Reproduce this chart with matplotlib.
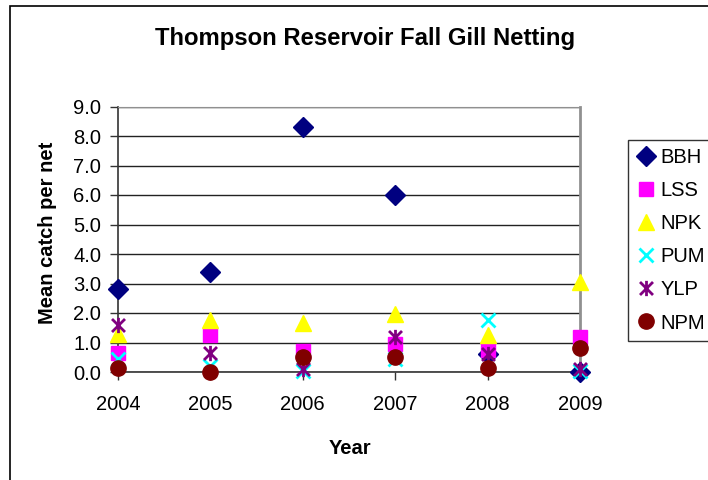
import matplotlib
matplotlib.use("Agg")
import matplotlib.pyplot as plt
from matplotlib.path import Path
from matplotlib.patches import Rectangle

plt.rcParams['font.family'] = ['Liberation Sans', 'DejaVu Sans']

# data
years = [2004, 2005, 2006, 2007, 2008, 2009]
bbh = [2.8, 3.4, 8.3, 6.0, 0.6, 0.0]
lss = [0.65, 1.25, 0.7, 0.95, 0.75, 1.2]
npk = [1.3, 1.75, 1.65, 1.95, 1.25, 3.05]
pum = [0.45, 0.2, 0.05, 0.45, 1.75, 0.05]
ylp = [1.6, 0.65, 0.1, 1.2, 0.6, 0.1]
npm = [0.15, 0.0, 0.5, 0.5, 0.15, 0.8]
yticks = [0, 1, 2, 3, 4, 5, 6, 7, 8, 9]

# Excel style asterisk: vertical bar plus an X
ast = Path([(0, -1), (0, 1), (-0.85, -0.85), (0.85, 0.85), (-0.85, 0.85), (0.85, -0.85)],
           [Path.MOVETO, Path.LINETO, Path.MOVETO, Path.LINETO, Path.MOVETO, Path.LINETO])

series = [
    ("BBH", bbh, "D", "#000080", 10, 1),
    ("LSS", lss, "s", "#FF00FF", 10, 1),
    ("NPK", npk, "^", "#FFFF00", 11, 1),
    ("PUM", pum, "x", "#00FFFF", 10, 2),
    ("YLP", ylp, ast, "#800080", 11, 2),
    ("NPM", npm, "o", "#800000", 11, 1),
]

fig = plt.figure(figsize=(7.08, 4.8), dpi=100)
ax = fig.add_axes([118/708, 1-372/480, 462/708, 265.5/480])

for name, vals, mk, col, ms, mew in series:
    ax.plot(years, vals, linestyle="none", marker=mk, color=col, markersize=ms,
            markeredgewidth=mew, markeredgecolor=col, label=name, clip_on=False, zorder=3)

ax.set_xlim(2004, 2009)
ax.set_ylim(0, 9)
ax.set_xticks(years)
ax.set_xticklabels([str(y) for y in years])
ax.set_yticks(yticks)
ax.set_yticklabels(["%.1f" % v for v in yticks])
ax.yaxis.grid(True, color="#222222", linewidth=1)
ax.set_axisbelow(True)
ax.tick_params(labelsize=14.5, direction="out", length=6, width=1, colors="#333333",
               labelcolor="black")
ax.tick_params(axis="x", pad=10.5)
ax.tick_params(axis="y", pad=6)
for s in ["top", "right"]:
    ax.spines[s].set_color("#909090")
ax.spines["right"].set_linewidth(2)
for s in ["left", "bottom"]:
    ax.spines[s].set_color("#333333")
    ax.spines[s].set_linewidth(1.2)

fig.text(365/708, 1-38/480, "Thompson Reservoir Fall Gill Netting", ha="center", va="center",
         fontsize=17.2, fontweight="bold")
fig.text(350/708, 1-449/480, "Year", ha="center", va="center", fontsize=14.5, fontweight="bold")
fig.text(48/708, 1-233/480, "Mean catch per net", ha="center", va="center", rotation=90,
         fontsize=14.5, fontweight="bold")

leg = fig.legend(loc="upper left", bbox_to_anchor=(628/708, 1-140/480), fontsize=14.5,
                 frameon=True, fancybox=False, edgecolor="black", handlelength=1.0,
                 handletextpad=0.2, borderpad=0.4, labelspacing=0.7, borderaxespad=0)
leg.get_frame().set_linewidth(1)

fig.patches.append(Rectangle((10/708, -0.1), 1.2, 1.1-6/480, transform=fig.transFigure,
                             fill=False, edgecolor="black", linewidth=1.2))

fig.savefig("out.png", dpi=100)
